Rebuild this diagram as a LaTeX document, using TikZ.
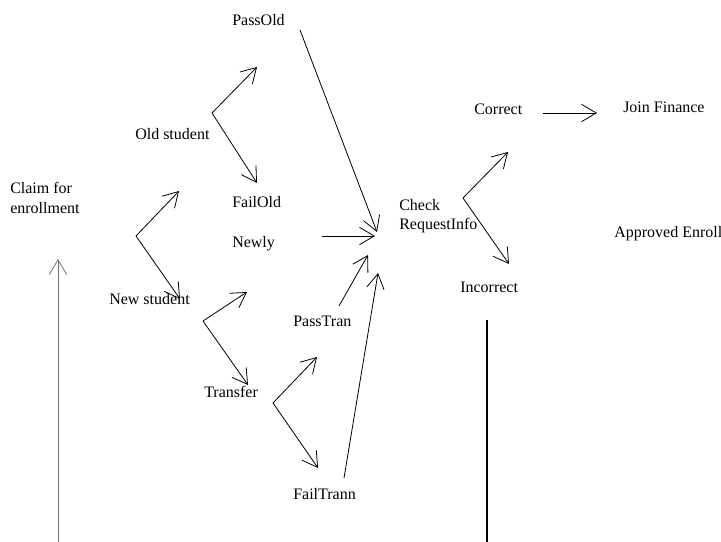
\documentclass[tikz,border=0pt]{standalone}
\usepackage{fontspec}
\setmainfont{Liberation Serif}
\usetikzlibrary{arrows.meta}
\tikzset{
  stlabel/.style={anchor=base west, inner sep=0pt, font=\fontsize{12}{14.5}\selectfont},
  stpair/.style={stlabel, anchor=west, align=left},
  stline/.style={-{Straight Barb[length=11pt,width=13pt]}, line width=0.6pt},
  stgrey/.style={stline, draw=black!55},
  stbar/.style={line width=1.6pt}
}

\begin{document}
\begin{tikzpicture}[x=0.75pt, y=-0.75pt]
  \useasboundingbox (0,0) rectangle (721,542);

  % labels
  \node[stpair] (claim) at (10,198) {Claim for\\enrollment};
  \node[stlabel] (old) at (135,139) {Old student};
  \node[stlabel] (new) at (109,304) {New student};
  \node[stlabel] (passold) at (232,26) {PassOld};
  \node[stlabel] (failold) at (232,207) {FailOld};
  \node[stlabel] (newly) at (232,247) {Newly};
  \node[stlabel] (transfer) at (204,397) {Transfer};
  \node[stlabel] (passtran) at (293,326) {PassTran};
  \node[stlabel] (failtran) at (293,499) {FailTrann};
  \node[stpair] (check) at (399,216) {Check\\RequestInfo};
  \node[stlabel] (correct) at (474,114) {Correct};
  \node[stlabel] (incorrect) at (460,292) {Incorrect};
  \node[stlabel] (finance) at (623,113) {Join Finance};
  \node[stlabel] (approved) at (614,237) {Approved Enroll};

  % free ends of the arrows
  \coordinate (claimfork) at (136,236);
  \coordinate (toold) at (179,191);
  \coordinate (tonew) at (180,299);
  \coordinate (oldfork) at (212,113);
  \coordinate (topassold) at (257,67);
  \coordinate (tofailold) at (257,183);
  \coordinate (newfork) at (203,321);
  \coordinate (tonewly) at (247,292);
  \coordinate (totransfer) at (248,385);
  \coordinate (transfork) at (273,403);
  \coordinate (topasstran) at (317,357);
  \coordinate (tofailtran) at (318,468);
  \coordinate (passoldtail) at (300,30);
  \coordinate (passoldhead) at (377,232);
  \coordinate (newlytail) at (322,236);
  \coordinate (newlyhead) at (375,236);
  \coordinate (passtrantail) at (339,306);
  \coordinate (passtranhead) at (368,255);
  \coordinate (failtrantail) at (344,478);
  \coordinate (failtranhead) at (378,273);
  \coordinate (checkfork) at (463,198);
  \coordinate (tocorrect) at (508,152);
  \coordinate (toincorrect) at (509,264);
  \coordinate (correcttail) at (543,113);
  \coordinate (correcthead) at (597,113);
  \coordinate (starttail) at (58,542);
  \coordinate (starthead) at (58,259);
  \coordinate (bartop) at (487,320);
  \coordinate (barfoot) at (487,542);

  % arrows
  \draw[stgrey] (starttail) -- (starthead);
  \draw[stline] (claimfork) -- (toold);
  \draw[stline] (claimfork) -- (tonew);
  \draw[stline] (oldfork) -- (topassold);
  \draw[stline] (oldfork) -- (tofailold);
  \draw[stline] (newfork) -- (tonewly);
  \draw[stline] (newfork) -- (totransfer);
  \draw[stline] (transfork) -- (topasstran);
  \draw[stline] (transfork) -- (tofailtran);
  \draw[stline] (passoldtail) -- (passoldhead);
  \draw[stline] (newlytail) -- (newlyhead);
  \draw[stline] (passtrantail) -- (passtranhead);
  \draw[stline] (failtrantail) -- (failtranhead);
  \draw[stline] (checkfork) -- (tocorrect);
  \draw[stline] (checkfork) -- (toincorrect);
  \draw[stline] (correcttail) -- (correcthead);
  \draw[stbar] (bartop) -- (barfoot);
\end{tikzpicture}
\end{document}
